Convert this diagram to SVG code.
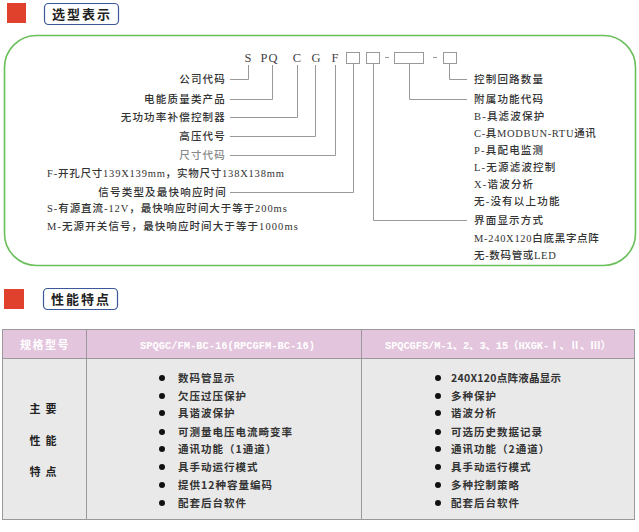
<svg xmlns="http://www.w3.org/2000/svg" width="639" height="532" viewBox="0 0 639 532">
<style>
.red{fill:#e0412c}
.btn{fill:#fff;stroke:#3b5998;stroke-width:1.2}
.btnt{font-family:"Noto Sans CJK SC",sans-serif;font-size:13px;font-weight:bold;fill:#222;letter-spacing:2px;text-anchor:middle}
.frame{fill:none;stroke:#6abf5a;stroke-width:1.6}
.code{font-family:"Liberation Serif","Noto Sans CJK SC",serif;font-size:12.5px;fill:#444;text-anchor:middle}
.box{fill:none;stroke:#999;stroke-width:1}
.ln{fill:none;stroke:#999;stroke-width:1}
.lbl{font-family:"Liberation Serif","Noto Sans CJK SC",serif;font-size:10.5px;fill:#333;letter-spacing:1.2px;font-weight:500}
.end{text-anchor:end}
.gray{fill:#888}
.hd{fill:#e3c5dd;stroke:#999;stroke-width:1}
.bd{fill:#e9e9e9;stroke:#999;stroke-width:1}
.hdt{font-family:"Liberation Mono","Noto Sans CJK SC",monospace;font-size:10.4px;font-weight:bold;fill:#fff}
.hdc{font-family:"Noto Sans CJK SC",sans-serif;font-size:11px;font-weight:bold;fill:#fff;letter-spacing:1.5px;text-anchor:middle}
.tx{font-family:"Noto Sans CJK SC",sans-serif;font-size:10.5px;font-weight:bold;fill:#333;letter-spacing:1px}
.tc{font-family:"Noto Sans CJK SC",sans-serif;font-size:11px;font-weight:bold;fill:#222;text-anchor:middle}
.dot{fill:#111}
</style>

<g id="header-selection">
<rect class="red" x="7" y="3" width="19" height="20"/>
<rect class="btn" x="44.5" y="3.5" width="74" height="21" rx="4"/>
<text class="btnt" x="82" y="19">选型表示</text>
</g>

<g id="frame">
<rect class="frame" x="4.5" y="35.5" width="631" height="230" rx="32"/>
</g>

<g id="model-code">
<text class="code" x="248" y="62">S</text>
<text class="code" x="264" y="62">P</text>
<text class="code" x="273" y="62">Q</text>
<text class="code" x="297" y="62">C</text>
<text class="code" x="316" y="62">G</text>
<text class="code" x="335" y="62">F</text>
<rect class="box" x="346.5" y="52.5" width="13" height="11"/>
<rect class="box" x="366.5" y="52.5" width="13" height="11"/>
<rect class="box" x="394.5" y="52.5" width="29" height="11"/>
<rect class="box" x="443.5" y="52.5" width="13" height="11"/>
<path class="ln" d="M385,57.5H389M433,57.5H437"/>
</g>

<g id="connectors">
<path class="ln" d="M248.5,65V79.5H230"/>
<path class="ln" d="M272.5,65V99.5H230"/>
<path class="ln" d="M297.5,65V117.5H230"/>
<path class="ln" d="M315.5,65V136.5H230"/>
<path class="ln" d="M335.5,65V155.5H230"/>
<path class="ln" d="M353.5,64V192.5H230"/>
<path class="ln" d="M373.5,64V220.5H467"/>
<path class="ln" d="M409.5,64V99.5H467"/>
<path class="ln" d="M449.5,64V79.5H467"/>
</g>

<g id="left-labels">
<text class="lbl end" x="226" y="83">公司代码</text>
<text class="lbl end" x="226" y="103">电能质量类产品</text>
<text class="lbl end" x="226" y="121">无功功率补偿控制器</text>
<text class="lbl end" x="226" y="140">高压代号</text>
<text class="lbl end gray" x="226" y="159">尺寸代码</text>
<text class="lbl" x="47" y="177" textLength="238" lengthAdjust="spacing">F-开孔尺寸139X139mm，实物尺寸138X138mm</text>
<text class="lbl end" x="227" y="196">信号类型及最快响应时间</text>
<text class="lbl" x="47" y="212" textLength="241" lengthAdjust="spacing">S-有源直流-12V，最快响应时间大于等于200ms</text>
<text class="lbl" x="47" y="230" textLength="252" lengthAdjust="spacing">M-无源开关信号，最快响应时间大于等于1000ms</text>
</g>

<g id="right-labels">
<text class="lbl" x="474" y="83">控制回路数量</text>
<text class="lbl" x="474" y="103">附属功能代码</text>
<text class="lbl" x="474" y="120">B-具滤波保护</text>
<text class="lbl" x="474" y="137" textLength="123" lengthAdjust="spacing">C-具MODBUN-RTU通讯</text>
<text class="lbl" x="474" y="154">P-具配电监测</text>
<text class="lbl" x="474" y="171">L-无源滤波控制</text>
<text class="lbl" x="474" y="188">X-谐波分析</text>
<text class="lbl" x="474" y="205">无-没有以上功能</text>
<text class="lbl" x="474" y="224">界面显示方式</text>
<text class="lbl" x="474" y="242" textLength="126" lengthAdjust="spacing">M-240X120白底黑字点阵</text>
<text class="lbl" x="474" y="259" textLength="83" lengthAdjust="spacing">无-数码管或LED</text>
</g>

<g id="header-performance">
<rect class="red" x="4" y="289" width="20" height="20"/>
<rect class="btn" x="43.5" y="288.5" width="74" height="21" rx="4"/>
<text class="btnt" x="81" y="304">性能特点</text>
</g>

<g id="table">
<rect class="hd" x="2.5" y="329.5" width="632" height="29"/>
<rect class="bd" x="2.5" y="358.5" width="632" height="161"/>
<path class="ln" d="M86.5,329.5V519.5M361.5,329.5V519.5"/>
<text class="hdc" x="45" y="349">规格型号</text>
<text class="hdt" x="140" y="349" textLength="175">SPQGC/FM-BC-16(RPCGFM-BC-16)</text>
<text class="hdt" x="385" y="349" textLength="226">SPQCGFS/M-1、2、3、15（HXGK-Ⅰ、Ⅱ、Ⅲ）</text>
</g>

<g id="row-label">
<text class="tc" x="43" y="413" xml:space="preserve">主  要</text>
<text class="tc" x="43" y="445" xml:space="preserve">性  能</text>
<text class="tc" x="43" y="476" xml:space="preserve">特  点</text>
</g>

<g id="col-1">
<circle class="dot" cx="162" cy="378" r="3"/><text class="tx" x="178" y="382">数码管显示</text>
<circle class="dot" cx="162" cy="396" r="3"/><text class="tx" x="178" y="400">欠压过压保护</text>
<circle class="dot" cx="162" cy="413" r="3"/><text class="tx" x="178" y="417">具谐波保护</text>
<circle class="dot" cx="162" cy="432" r="3"/><text class="tx" x="178" y="436">可测量电压电流畸变率</text>
<circle class="dot" cx="162" cy="449" r="3"/><text class="tx" x="178" y="453">通讯功能（1通道）</text>
<circle class="dot" cx="162" cy="467" r="3"/><text class="tx" x="178" y="471">具手动运行模式</text>
<circle class="dot" cx="162" cy="485" r="3"/><text class="tx" x="178" y="489">提供12种容量编码</text>
<circle class="dot" cx="162" cy="503" r="3"/><text class="tx" x="178" y="507">配套后台软件</text>
</g>

<g id="col-2">
<circle class="dot" cx="438" cy="378" r="3"/><text class="tx" x="451" y="382" textLength="111" lengthAdjust="spacing">240X120点阵液晶显示</text>
<circle class="dot" cx="438" cy="396" r="3"/><text class="tx" x="451" y="400">多种保护</text>
<circle class="dot" cx="438" cy="413" r="3"/><text class="tx" x="451" y="417">谐波分析</text>
<circle class="dot" cx="438" cy="432" r="3"/><text class="tx" x="451" y="436">可选历史数据记录</text>
<circle class="dot" cx="438" cy="449" r="3"/><text class="tx" x="451" y="453">通讯功能（2通道）</text>
<circle class="dot" cx="438" cy="467" r="3"/><text class="tx" x="451" y="471">具手动运行模式</text>
<circle class="dot" cx="438" cy="485" r="3"/><text class="tx" x="451" y="489">多种控制策略</text>
<circle class="dot" cx="438" cy="503" r="3"/><text class="tx" x="451" y="507">配套后台软件</text>
</g>
</svg>
